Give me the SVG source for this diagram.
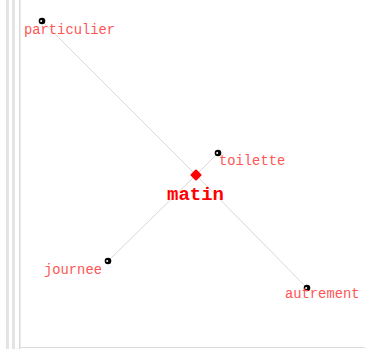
<svg xmlns="http://www.w3.org/2000/svg" width="365" height="349" viewBox="0 0 365 349">
<style>
.lbl{font-family:"Liberation Mono","DejaVu Sans Mono",monospace;font-size:13.8px;fill:#ff5555}
.main{font-family:"Liberation Mono","DejaVu Sans Mono",monospace;font-size:19px;font-weight:bold;fill:#ff0000}
.edge{stroke:#d8d8d8;stroke-width:1;fill:none}
.dot{fill:#000}
.hl{fill:#fff}
</style>
<defs>
<g id="pt"><circle r="3.3" class="dot"/><circle cx="-0.8" cy="0" r="1" class="hl"/></g>
</defs>
<rect x="0" y="0" width="365" height="349" fill="#fff"/>
<rect x="6" y="0" width="3" height="349" fill="#e4e4e4"/>
<rect x="12" y="0" width="3" height="349" fill="#e4e4e4"/>
<rect x="19" y="0" width="1.5" height="349" fill="#d8d8d8"/>
<line x1="20" y1="347.5" x2="365" y2="347.5" stroke="#dcdcdc" stroke-width="1"/>
<g id="connectors">
<line class="edge" x1="42" y1="21" x2="196" y2="175"/>
<line class="edge" x1="196" y1="175" x2="307" y2="288"/>
<line class="edge" x1="196" y1="175" x2="218" y2="153"/>
<line class="edge" x1="196" y1="175" x2="108" y2="261"/>
</g>
<g id="particulier"><use href="#pt" x="42" y="21"/><text class="lbl" x="24" y="34">particulier</text></g>
<g id="toilette"><use href="#pt" x="218" y="153"/><text class="lbl" x="219" y="165">toilette</text></g>
<g id="journee"><use href="#pt" x="108" y="261"/><text class="lbl" x="44" y="274">journee</text></g>
<g id="autrement"><use href="#pt" x="307" y="288"/><text class="lbl" x="285" y="298">autrement</text></g>
<g id="matin"><path d="M196 170.5 L200.5 175 L196 179.5 L191.5 175 Z" fill="#ff0000" stroke="#ff0000" stroke-width="2" stroke-linejoin="round"/><text class="main" x="167" y="200">matin</text></g>
</svg>
